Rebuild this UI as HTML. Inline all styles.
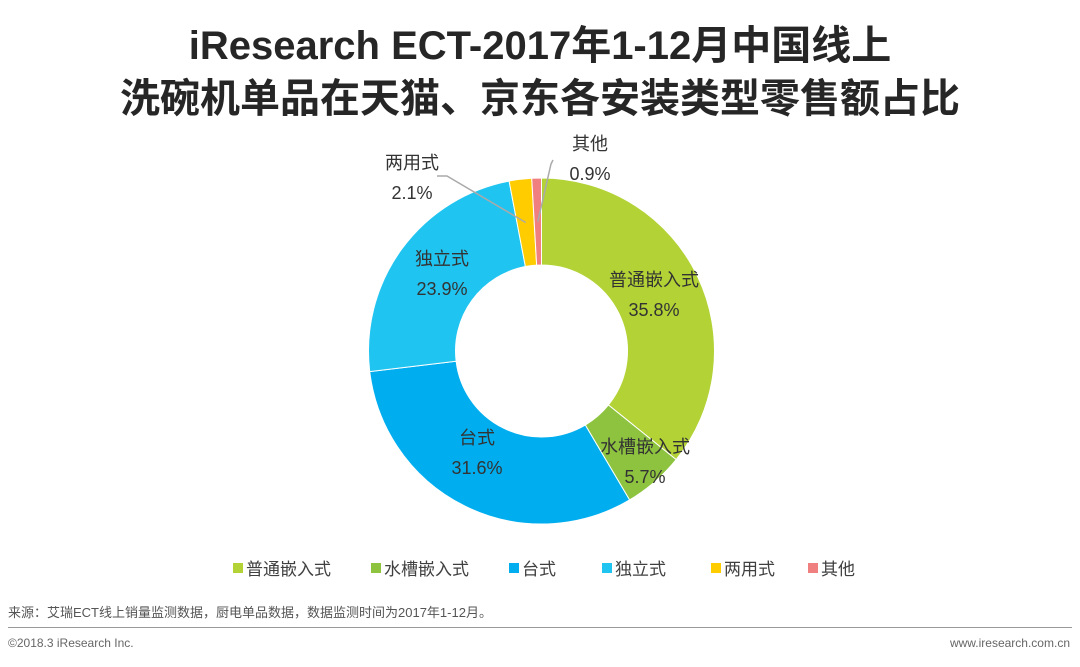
<!DOCTYPE html>
<html><head><meta charset="utf-8"><style>
body{margin:0;width:1080px;height:667px;background:#fff;font-family:"Liberation Sans","Noto Sans CJK SC",sans-serif;position:relative;overflow:hidden;color:#404040}
.t{position:absolute;left:0;width:1080px;text-align:center;font-weight:bold;font-size:40px;color:#262626;line-height:48px}
.lg{position:absolute;top:555px;font-size:17px;color:#404040;display:flex;align-items:center}
.lg i{display:inline-block;width:10px;height:10px;margin-right:3px}
</style></head><body>
<div class="t" style="top:22px">iResearch ECT-2017年1-12月中国线上</div>
<div class="t" style="top:75px">洗碗机单品在天猫、京东各安装类型零售额占比</div>
<svg id="c" width="1080" height="667" style="position:absolute;left:0;top:0"></svg>
<div class="lg" style="left:233px"><i style="background:#b2d235"></i>普通嵌入式</div>
<div class="lg" style="left:371px"><i style="background:#8dc33f"></i>水槽嵌入式</div>
<div class="lg" style="left:509px"><i style="background:#00aeef"></i>台式</div>
<div class="lg" style="left:602px"><i style="background:#20c4f0"></i>独立式</div>
<div class="lg" style="left:711px"><i style="background:#ffcc00"></i>两用式</div>
<div class="lg" style="left:808px"><i style="background:#f08080"></i>其他</div>
<div style="position:absolute;left:8px;top:602px;font-size:13px;color:#555">来源：艾瑞ECT线上销量监测数据，厨电单品数据，数据监测时间为2017年1-12月。</div>
<div style="position:absolute;left:8px;top:627px;width:1064px;height:1px;background:#999"></div>
<div style="position:absolute;left:8px;top:636px;font-size:12px;color:#666">©2018.3 iResearch Inc.</div>
<div style="position:absolute;right:10px;top:636px;font-size:12px;color:#666">www.iresearch.com.cn</div>
<script>
const categories=["普通嵌入式","水槽嵌入式","台式","独立式","两用式","其他"];
const values=[35.8,5.7,31.6,23.9,2.1,0.9];
const labels=["35.8%","5.7%","31.6%","23.9%","2.1%","0.9%"];
const colors=["#b2d235","#8dc33f","#00aeef","#20c4f0","#ffcc00","#f08080"];
const svg=document.getElementById('c'),NS="http://www.w3.org/2000/svg";
const cx=541.5,cy=351,R=173,r=86;
const total=values.reduce((a,b)=>a+b,0);
function pt(a,rad){return [cx+rad*Math.sin(a),cy-rad*Math.cos(a)];}
const labelPos=[[654,280],[645,447],[477,438],[442,259],[412,163],[590,144]];
let a0=0;
values.forEach((v,i)=>{
 const a1=a0+v/total*2*Math.PI,lg=(a1-a0)>Math.PI?1:0;
 const [x0,y0]=pt(a0,R),[x1,y1]=pt(a1,R),[x2,y2]=pt(a1,r),[x3,y3]=pt(a0,r);
 const p=document.createElementNS(NS,'path');
 p.setAttribute('d',`M${x0},${y0}A${R},${R} 0 ${lg} 1 ${x1},${y1}L${x2},${y2}A${r},${r} 0 ${lg} 0 ${x3},${y3}Z`);
 p.setAttribute('fill',colors[i]);p.setAttribute('stroke','#fff');p.setAttribute('stroke-width','1');
 
 
 svg.appendChild(p);
 const mid=(a0+a1)/2;
 if(v<=4){
  const [ex,ey]=pt(mid,(R+r)/2);
  const pts=i===4?`${ex},${ey} 447,176 437,176`:`${ex},${ey} 551,164 553,160`;
  const ln=document.createElementNS(NS,'polyline');
  ln.setAttribute('points',pts);
  ln.setAttribute('fill','none');ln.setAttribute('stroke','#aaa');ln.setAttribute('stroke-width','1.5');
  
  
  svg.appendChild(ln);
 }
 const [lx,ly]=labelPos[i];
 [[categories[i],0],[labels[i],30]].forEach(([txt,dy],k)=>{
  const t=document.createElementNS(NS,'text');
  t.setAttribute('x',lx);t.setAttribute('y',ly+dy+6);t.setAttribute('text-anchor','middle');
  t.setAttribute('font-size','18');t.setAttribute('fill','#333');
  t.setAttribute('font-family','"Liberation Sans","Noto Sans CJK SC",sans-serif');
  t.textContent=txt;
  
  
  svg.appendChild(t);
 });
 a0=a1;
});
</script>
</body></html>
